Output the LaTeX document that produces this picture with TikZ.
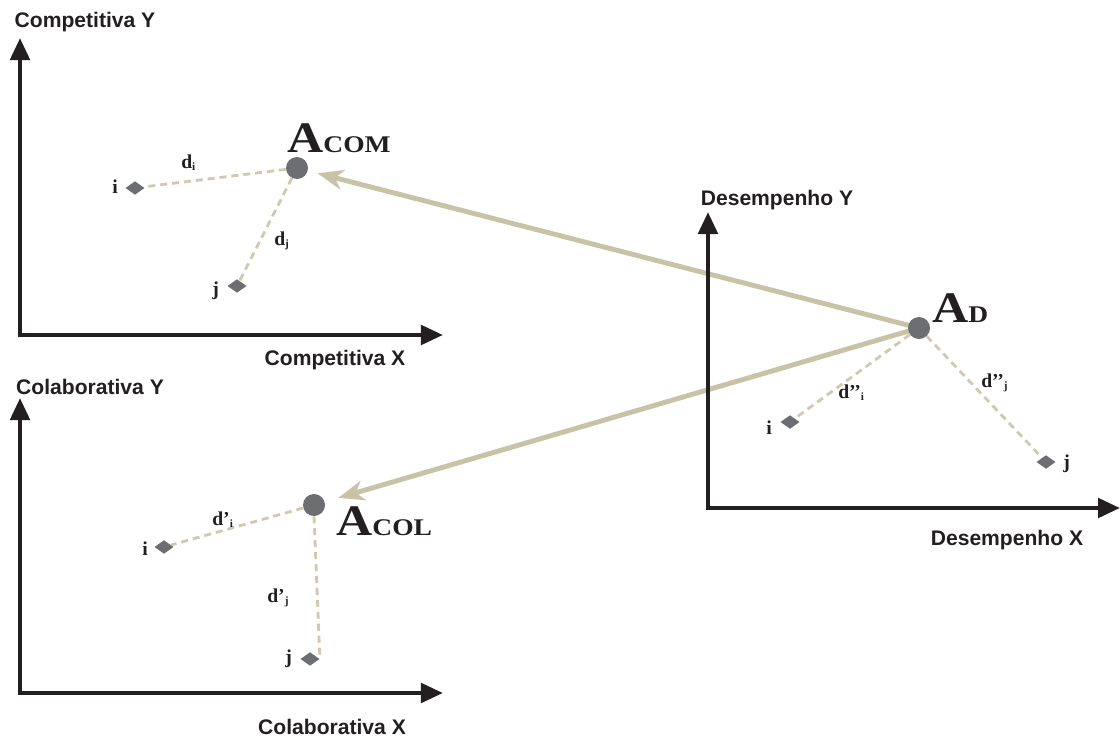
\documentclass[tikz,border=0pt]{standalone}
\usepackage{fontspec}
\setmainfont{Liberation Serif}
\newfontfamily\axisfont{Liberation Sans}
\usepackage{tikz}
\usetikzlibrary{arrows.meta,positioning,shapes.geometric,backgrounds}
\definecolor{axisblack}{HTML}{231F20}
\definecolor{linkkhaki}{HTML}{C8C3A6}
\definecolor{distkhaki}{HTML}{CFCAAF}
\definecolor{ptgray}{HTML}{6D6E71}
\newcommand{\lowsub}[1]{\raisebox{-0.3ex}{\fontsize{8}{9}\selectfont #1}}
\newcommand{\bigA}[1]{\scalebox{1.15}[1]{{\fontsize{31}{32}\selectfont A}{\fontsize{17}{18}\selectfont #1}}}

\begin{document}
\begin{tikzpicture}[x=0.025cm,y=-0.025cm,
  axis/.style={line width=3.2pt,axisblack,{Triangle[length=5.5mm,width=4.8mm]}-{Triangle[length=5.5mm,width=4.8mm]}},
  axlabel/.style={font=\axisfont\bfseries\fontsize{15}{17}\selectfont,text=axisblack,inner sep=0pt},
  centre/.style={circle,fill=ptgray,minimum size=5.5mm,inner sep=0pt},
  item/.style={diamond,fill=ptgray,minimum width=4.8mm,minimum height=3.4mm,inner sep=0pt},
  alabel/.style={font=\bfseries,text=axisblack,inner sep=0pt,anchor=base west},
  plabel/.style={font=\bfseries\fontsize{14}{16}\selectfont,text=axisblack,inner sep=0pt,anchor=base west},
  link/.style={line width=3.5pt,linkkhaki,-{Stealth[length=6.5mm,width=5mm,inset=2mm]}},
  dist/.style={line width=2pt,distkhaki,dash pattern=on 5pt off 3.5pt}]
  \useasboundingbox (0,0) rectangle (1120,737);
  % axes
  \coordinate (comO) at (20,335); \coordinate (comY) at (20,38); \coordinate (comX) at (443,335);
  \coordinate (colO) at (20,693); \coordinate (colY) at (20,398); \coordinate (colX) at (443,693);
  \coordinate (desO) at (708,508); \coordinate (desY) at (708,212); \coordinate (desX) at (1120,508);
  \draw[axis] (comY) -- (comO) -- (comX);
  \draw[axis] (colY) -- (colO) -- (colX);
  \draw[axis] (desY) -- (desO) -- (desX);
  \node[axlabel] (comYl) at (85,22) {Competitiva Y};
  \node[axlabel] (comXl) at (335,360) {Competitiva X};
  \node[axlabel] (colYl) at (90,387) {Colaborativa Y};
  \node[axlabel] (colXl) at (332,727) {Colaborativa X};
  \node[axlabel] (desYl) at (777,200) {Desempenho Y};
  \node[axlabel] (desXl) at (1007,540) {Desempenho X};
  % centres and items
  \node[centre] (acom) at (297,168) {};
  \node[centre] (ad) at (919,328) {};
  \node[centre] (acol) at (314,505) {};
  \node[item] (comi) at (135,188) {};
  \node[item] (comj) at (237,286) {};
  \node[item] (desi) at (790,422) {};
  \node[item] (desj) at (1046,462) {};
  \node[item] (coli) at (164,547) {};
  \node[item] (colj) at (310,659) {};
  \begin{scope}[on background layer]
    \draw[dist] (acom) -- (comi);
    \draw[dist] (acom) -- (comj);
    \draw[dist] (ad) -- (desi);
    \draw[dist] (ad) -- (desj);
    \draw[dist] (acol) -- (coli);
    \draw[dist] (acol.south) -- (colj.east);
    \draw[link,shorten >=7pt] (ad.center) -- (acom);
    \draw[link,shorten >=10pt] (ad.center) -- (acol);
  \end{scope}
  % labels
  \node[alabel] (acoml) at (287,152) {\bigA{COM}};
  \node[alabel] (adl) at (932,322) {\bigA{D}};
  \node[alabel] (acoll) at (336,535) {\bigA{COL}};
  \node[plabel] (comil) at (112,193) {i};
  \node[plabel] (comjl) at (212,295) {j};
  \node[plabel] (comdi) at (181,168) {d\lowsub{i}};
  \node[plabel] (comdj) at (274,245) {d\lowsub{j}};
  \node[plabel] (desil) at (766,434) {i};
  \node[plabel] (desjl) at (1063,468) {j};
  \node[plabel] (desdi) at (838,398) {d’’\lowsub{i}};
  \node[plabel] (desdj) at (981,387) {d’’\lowsub{j}};
  \node[plabel] (colil) at (142,555) {i};
  \node[plabel] (coljl) at (285,663) {j};
  \node[plabel] (coldi) at (212,525) {d’\lowsub{i}};
  \node[plabel] (coldj) at (267,602) {d’\lowsub{j}};
\end{tikzpicture}
\end{document}
